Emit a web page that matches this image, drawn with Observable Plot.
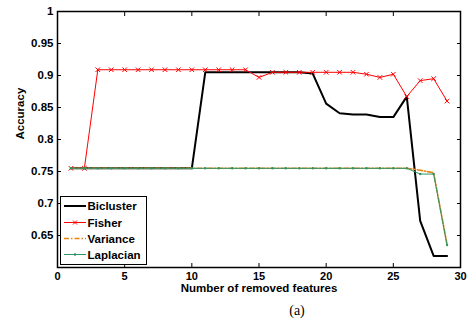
<!DOCTYPE html>
<html><head><meta charset="utf-8">
<script src="https://cdn.jsdelivr.net/npm/d3@7"></script>
<script src="https://cdn.jsdelivr.net/npm/@observablehq/plot@0.6"></script>
<style>
html,body{margin:0;padding:0;background:#fff;}
#wrap{position:relative;width:467px;height:322px;}
#legend{position:absolute;left:60px;top:196px;}
</style></head><body><div id="wrap"></div>
<script>
const features  = [1,2,3,4,5,6,7,8,9,10,11,12,13,14,15,16,17,18,19,20,21,22,23,24,25,26,27,28,29];
const bicluster = [0.755,0.755,0.755,0.755,0.755,0.755,0.755,0.755,0.755,0.755,0.905,0.905,0.905,0.905,0.905,0.905,0.905,0.905,0.903,0.856,0.841,0.839,0.839,0.835,0.835,0.867,0.673,0.618,0.618];
const fisher    = [0.755,0.755,0.909,0.909,0.909,0.909,0.909,0.909,0.909,0.909,0.909,0.909,0.909,0.909,0.897,0.905,0.905,0.905,0.905,0.905,0.905,0.905,0.902,0.897,0.902,0.867,0.892,0.895,0.860];
const variance  = [0.755,0.755,0.755,0.755,0.755,0.755,0.755,0.755,0.755,0.755,0.755,0.755,0.755,0.755,0.755,0.755,0.755,0.755,0.755,0.755,0.755,0.755,0.755,0.755,0.755,0.755,0.752,0.748,0.636];
const laplacian = [0.755,0.755,0.755,0.755,0.755,0.755,0.755,0.755,0.755,0.755,0.755,0.755,0.755,0.755,0.755,0.755,0.755,0.755,0.755,0.755,0.755,0.755,0.755,0.755,0.755,0.755,0.746,0.746,0.635];
const xTicks = [0,5,10,15,20,25,30];
const yTicks = [0.65,0.7,0.75,0.8,0.85,0.9,0.95,1];
const seriesNames = ["Bicluster","Fisher","Variance","Laplacian"];
const colors = {Bicluster:"#000000", Fisher:"#ff0000", Variance:"#e8830f", Laplacian:"#2e9466"};
const xLabel = "Number of removed features";
const yLabel = "Accuracy";
const caption = "(a)";

const rows = (vals) => features.map((f,i) => ({x:f, y:vals[i]}));
const bic = rows(bicluster), fis = rows(fisher), vari = rows(variance), lap = rows(laplacian);
const fmt = d => String(+d.toFixed(2));
const font = '"Liberation Sans", Arial, Helvetica, sans-serif';

const chart = Plot.plot({
  width: 467, height: 322,
  marginLeft: 57, marginRight: 7, marginTop: 11, marginBottom: 55,
  style: {fontFamily: font, fontSize: "11.5px", fontWeight: "bold", color: "#000", background: "#fff"},
  x: {domain: [0,30]},
  y: {domain: [0.6,1]},
  marks: [
    Plot.axisX({ticks: xTicks, tickSize: -4, tickPadding: 9, label: null, fontSize: 11, fontWeight: "bold"}),
    Plot.axisX({anchor: "top", ticks: xTicks, tickSize: -4, tickFormat: () => "", label: null}),
    Plot.axisY({ticks: yTicks, tickSize: -4, tickPadding: 8, tickFormat: fmt, label: null, fontWeight: "bold"}),
    Plot.axisY({anchor: "right", ticks: yTicks, tickSize: -4, tickFormat: () => "", label: null}),
    Plot.line(bic, {x: "x", y: "y", stroke: colors.Bicluster, strokeWidth: 2}),
    Plot.line(fis, {x: "x", y: "y", stroke: colors.Fisher, strokeWidth: 1}),
    Plot.dot(fis, {x: "x", y: "y", symbol: "times", r: 2.2, stroke: colors.Fisher, strokeWidth: 1}),
    Plot.line(vari, {x: "x", y: "y", stroke: colors.Variance, strokeWidth: 1.6, strokeDasharray: "5,2,1.5,2"}),
    Plot.line(lap, {x: "x", y: "y", stroke: colors.Laplacian, strokeWidth: 1}),
    Plot.dot(lap, {x: "x", y: "y", r: 1.2, fill: colors.Laplacian, stroke: "none"}),
    Plot.frame({stroke: "#000", strokeWidth: 1.5}),
    Plot.text([xLabel], {frameAnchor: "bottom", dy: 24, text: d => d, fontSize: 11.5, fontWeight: "bold"}),
    Plot.text([yLabel], {frameAnchor: "left", dx: -37, rotate: -90, text: d => d, fontSize: 11.5, fontWeight: "bold"}),
    Plot.text([caption], {frameAnchor: "bottom", dx: 38, dy: 47, text: d => d, fontSize: 14, fontWeight: "normal", fontFamily: '"Liberation Serif", "Times New Roman", serif'})
  ]
});
const wrap = document.getElementById("wrap");
wrap.appendChild(chart);

// legend
const lg = d3.create("svg").attr("id","legend").attr("width",88).attr("height",70)
  .style("font-family", font).style("font-size","11.5px").style("font-weight","bold");
lg.append("rect").attr("x",0.5).attr("y",0.5).attr("width",86).attr("height",68).attr("fill","#fff").attr("stroke","#000").attr("stroke-width",1);
const ys = [10, 26.5, 42.5, 58.5];
seriesNames.forEach((name,i) => {
  const y = ys[i];
  const ln = lg.append("line").attr("x1",4).attr("x2",26).attr("y1",y).attr("y2",y).attr("stroke",colors[name]);
  if (name === "Bicluster") ln.attr("stroke-width",2);
  else if (name === "Variance") ln.attr("stroke-width",1.6).attr("stroke-dasharray","5,2,1.5,2");
  else ln.attr("stroke-width",1);
  if (name === "Fisher") {
    lg.append("path").attr("d",`M13,${y-2}L17,${y+2}M13,${y+2}L17,${y-2}`).attr("stroke",colors[name]).attr("stroke-width",1);
  }
  if (name === "Laplacian") {
    lg.append("circle").attr("cx",15).attr("cy",y).attr("r",1.3).attr("fill",colors[name]);
  }
  lg.append("text").attr("x",27.5).attr("y",y).attr("dy","0.35em").text(name);
});
wrap.appendChild(lg.node());
</script></body></html>
